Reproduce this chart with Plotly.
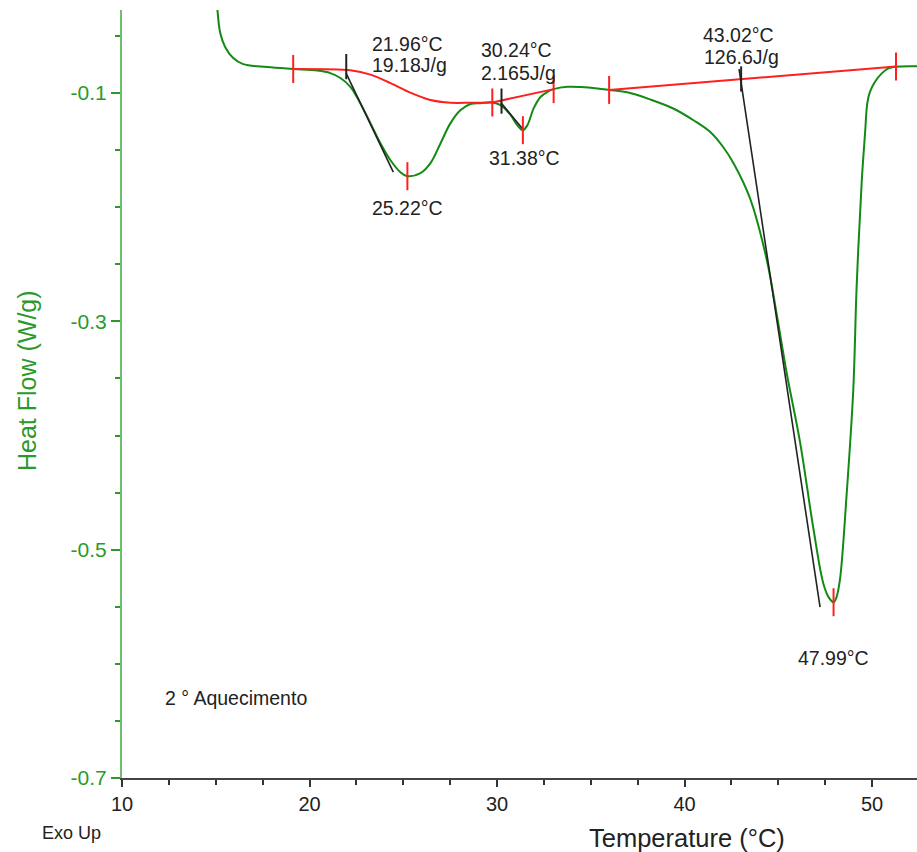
import plotly.graph_objects as go

# ---- DSC curve (Temperature °C, Heat Flow W/g) ----
curve_T = [15.02, 15.09, 15.24, 15.50, 15.93, 16.46, 17.75, 19.13, 20.42, 21.11, 21.65,
           22.18, 22.71, 23.25, 23.78, 24.32, 24.85, 25.22, 25.92, 26.45, 26.99, 27.52,
           28.06, 28.59, 29.12, 29.75, 30.19, 30.73, 31.08, 31.38, 31.62, 31.96, 32.33,
           32.69, 33.02, 33.76, 34.47, 35.36, 35.98, 37.00, 38.16, 39.40, 40.50,
           41.36, 42.05, 42.60, 43.49, 44.38, 44.92, 45.45, 46.16, 46.87, 47.40, 47.70,
           47.95, 48.10, 48.29, 48.65, 49.00, 49.18, 49.45, 49.63, 49.75, 49.89, 50.16,
           50.52, 50.87, 51.23, 52.50]
curve_HF = [-0.010, -0.0272, -0.0474, -0.0596, -0.0693, -0.0746, -0.0772, -0.0789, -0.0803,
            -0.0825, -0.0868, -0.0945, -0.1088, -0.1263, -0.1439, -0.1588, -0.1693, -0.1728,
            -0.1702, -0.1614, -0.1439, -0.1263, -0.1149, -0.1096, -0.1088, -0.1082, -0.1105,
            -0.1193, -0.1281, -0.1325, -0.1281, -0.1132, -0.1032, -0.0989, -0.0965, -0.0945,
            -0.0947, -0.0959, -0.0972, -0.0995, -0.1055, -0.1135, -0.1240,
            -0.1339, -0.1470, -0.1610, -0.1920, -0.2455, -0.2939, -0.3452, -0.4056, -0.4810,
            -0.5293, -0.5420, -0.5460, -0.5420, -0.5263, -0.4509, -0.3603, -0.2697, -0.1780,
            -0.1350, -0.1088, -0.0989, -0.0901, -0.0827, -0.0783, -0.0769, -0.0765]

# ---- integration baselines (red) ----
base1_T = [19.13, 22.18, 23.25, 24.32, 25.38, 26.45, 27.52, 28.59, 29.75]
base1_HF = [-0.0789, -0.0800, -0.0838, -0.0912, -0.0996, -0.1061, -0.1085, -0.1085, -0.1082]
base2_T = [29.75, 33.02]
base2_HF = [-0.1082, -0.0965]
base3_T = [35.98, 51.28]
base3_HF = [-0.0972, -0.0768]

# limit markers (red) and onset markers (black)
limit_T = [19.13, 29.75, 33.02, 35.98, 51.28, 25.22, 31.38, 47.95]
limit_HF = [-0.0789, -0.1082, -0.0965, -0.0972, -0.0768, -0.1728, -0.1325, -0.5460]
onset_T = [21.96, 30.24, 43.02]
onset_HF = [-0.0768, -0.1070, -0.0876]

# onset tangents (black)
tan1_T, tan1_HF = [21.95, 24.47], [-0.0825, -0.1693]
tan2_T, tan2_HF = [30.20, 31.35], [-0.1082, -0.1310]
tan3_T, tan3_HF = [42.91, 47.23], [-0.0790, -0.5504]

# labels
lab_text = ["21.96°C", "19.18J/g", "30.24°C", "2.165J/g", "31.38°C", "25.22°C",
            "43.02°C", "126.6J/g", "47.99°C"]
lab_T = [23.20, 23.25, 29.05, 29.05, 29.45, 23.25, 40.88, 40.92, 45.97]
lab_HF = [-0.0570, -0.0752, -0.0625, -0.0827, -0.1570, -0.2010, -0.0491, -0.0686, -0.5947]

x_ticks = [10, 20, 30, 40, 50]
y_ticks = [-0.1, -0.3, -0.5, -0.7]

GREEN = "#138a13"
GREEN_TXT = "#2b9a2b"
RED = "#ff1f1f"
FONT = "Liberation Sans, Arial, sans-serif"

fig = go.Figure()
fig.add_trace(go.Scatter(x=curve_T, y=curve_HF, mode="lines",
                         line=dict(color=GREEN, width=2, shape="spline", smoothing=1.0)))
fig.add_trace(go.Scatter(x=base1_T, y=base1_HF, mode="lines",
                         line=dict(color=RED, width=2, shape="spline", smoothing=0.8)))
for bx, by in [(base2_T, base2_HF), (base3_T, base3_HF)]:
    fig.add_trace(go.Scatter(x=bx, y=by, mode="lines", line=dict(color=RED, width=2)))
for tx, ty in [(tan1_T, tan1_HF), (tan2_T, tan2_HF), (tan3_T, tan3_HF)]:
    fig.add_trace(go.Scatter(x=tx, y=ty, mode="lines", line=dict(color="#222222", width=1.6)))
fig.add_trace(go.Scatter(x=limit_T, y=limit_HF, mode="markers",
                         marker=dict(symbol="line-ns", size=20,
                                     line=dict(color=RED, width=2))))
fig.add_trace(go.Scatter(x=onset_T, y=onset_HF, mode="markers",
                         marker=dict(symbol="line-ns", size=18,
                                     line=dict(color="#222222", width=2))))

for t, xx, yy in zip(lab_text, lab_T, lab_HF):
    fig.add_annotation(x=xx, y=yy, text=t, showarrow=False, xanchor="left", yanchor="middle",
                       font=dict(family=FONT, size=19.5, color="#222222"))

fig.add_annotation(x=12.19, y=-0.6298, text="2 ° Aquecimento", showarrow=False,
                   xanchor="left", yanchor="middle",
                   font=dict(family=FONT, size=19.5, color="#222222"))
fig.add_annotation(xref="paper", yref="paper", x=(687 - 122) / 795, y=-(838 - 778) / 768,
                   text="Temperature (°C)", showarrow=False, xanchor="center", yanchor="middle",
                   font=dict(family=FONT, size=25.5, color="#222222"))
fig.add_annotation(xref="paper", yref="paper", x=-(122 - 27) / 795, y=(778 - 381) / 768,
                   text="Heat Flow (W/g)", showarrow=False, textangle=-90,
                   xanchor="center", yanchor="middle",
                   font=dict(family=FONT, size=25, color=GREEN_TXT))
fig.add_annotation(xref="paper", yref="paper", x=-(122 - 40) / 795, y=-(833 - 778) / 768,
                   text="Exo Up", showarrow=False, xanchor="left", yanchor="middle",
                   font=dict(family=FONT, size=18, color="#222222"))

fig.update_layout(
    width=917, height=852,
    margin=dict(l=122, r=0, t=10, b=74),
    paper_bgcolor="white", plot_bgcolor="white",
    showlegend=False,
    font=dict(family=FONT),
)
fig.update_xaxes(range=[10, 52.4], tickvals=x_ticks, ticks="outside", ticklen=7, tickwidth=1.5,
                 tickcolor="#333333", showline=True, linecolor="#444444", linewidth=2,
                 showgrid=False, zeroline=False,
                 tickfont=dict(family=FONT, size=20, color="#222222"),
                 minor=dict(dtick=2.5, tick0=10, ticks="outside", ticklen=5, tickcolor="#333333",
                            showgrid=False))
fig.update_yaxes(range=[-0.7, -0.0272], tickvals=y_ticks, ticktext=["-0.1", "-0.3", "-0.5", "-0.7"],
                 ticks="outside", ticklen=9, tickwidth=1.5, tickcolor=GREEN_TXT,
                 showline=True, linecolor="#6cbf6c", linewidth=2,
                 showgrid=False, zeroline=False,
                 tickfont=dict(family=FONT, size=21, color=GREEN_TXT),
                 minor=dict(dtick=0.05, tick0=-0.7, ticks="outside", ticklen=5, tickcolor=GREEN_TXT,
                            showgrid=False))

fig.write_html("out.html")
